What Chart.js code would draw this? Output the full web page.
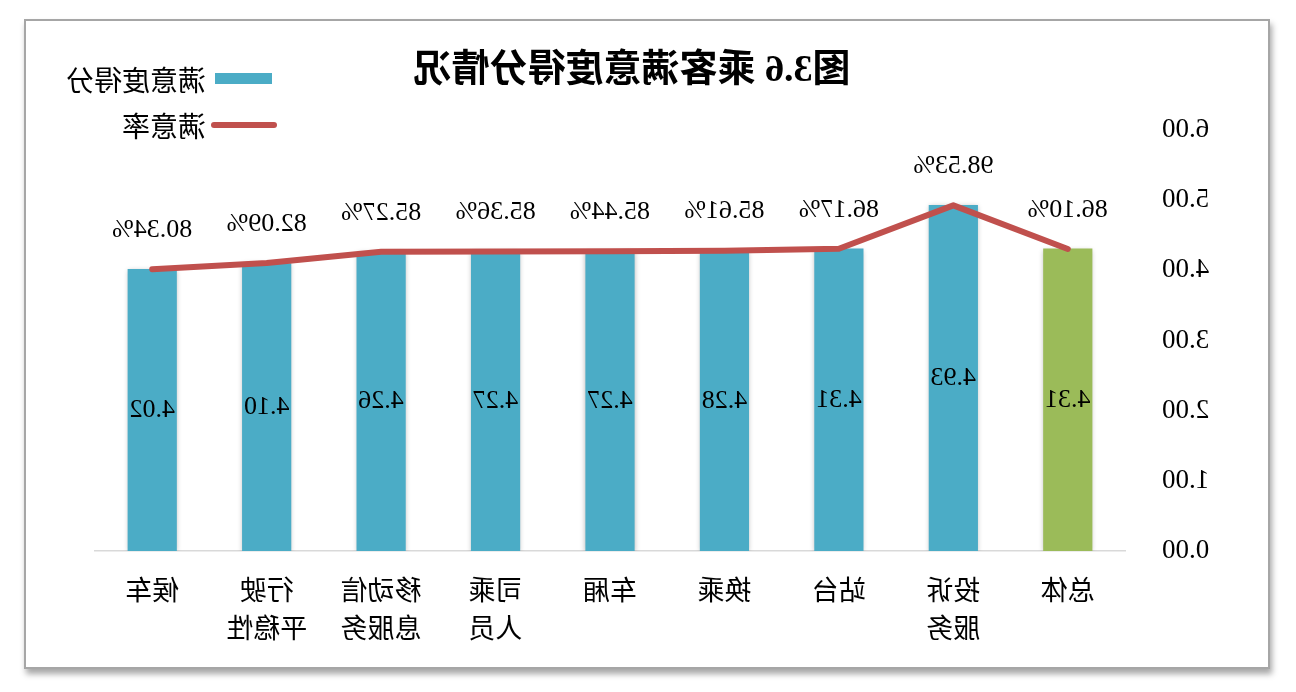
<!DOCTYPE html>
<html lang="zh">
<head>
<meta charset="utf-8">
<title>图3.6 乘客满意度得分情况</title>
<script src="https://cdn.jsdelivr.net/npm/chart.js@4.4.1/dist/chart.umd.min.js"></script>
<style>
    html, body { margin: 0; padding: 0; background: #fff; }
    /* the reference picture is a mirror image, so the whole page is flipped */
    #page { position: relative; width: 1296px; height: 692px; transform: scaleX(-1); overflow: hidden; }
    .frame { position: absolute; left: 26px; top: 19px; width: 1246px; height: 650px; box-sizing: border-box;
             border: 2px solid #a6a6a6; background: #fff; box-shadow: -2px 5px 6px rgba(0,0,0,0.35); }
    .chart-box { position: absolute; left: 0; top: 0; width: 1296px; height: 692px; }
    .title { position: absolute; left: 664px; top: 45px; transform: translateX(-50%); white-space: nowrap;
             font: bold 38px "Liberation Serif", "Noto Sans CJK SC", serif; color: #000; line-height: 46px; }
    .lg-text { position: absolute; left: 1090px; font: 28px "Noto Sans CJK SC", sans-serif; color: #000; line-height: 30px; white-space: nowrap; }
    .lg-box { position: absolute; left: 1024px; top: 73px; width: 57px; height: 11px; background: #4bacc6; }
    .lg-line { position: absolute; left: 1019px; top: 122px; width: 66px; height: 6px; border-radius: 3px; background: #c0504d; }
</style>
</head>
<body>
<div id="page">
    <div class="frame"></div>
    <div class="title">图3.6 乘客满意度得分情况</div>
    <div class="lg-box"></div><div class="lg-text" style="top:64px">满意度得分</div>
    <div class="lg-line"></div><div class="lg-text" style="top:110px">满意率</div>
    <div class="chart-box"><canvas id="scoreChart"></canvas></div>
</div>
<script>
// categories, left to right in the unflipped chart
const categories = [['总体'], ['投诉', '服务'], ['站台'], ['换乘'], ['车厢'], ['司乘', '人员'], ['移动信', '息服务'], ['行驶', '平稳性'], ['候车']];
const scores = [4.31, 4.93, 4.31, 4.28, 4.27, 4.27, 4.26, 4.10, 4.02];       // 满意度得分
const rates = [86.10, 98.53, 86.17, 85.61, 85.44, 85.36, 85.27, 82.09, 80.34]; // 满意率 (%)
const scoreTicks = [0, 1, 2, 3, 4, 5, 6];

const NUM_FONT = '"Liberation Serif", "Times New Roman", serif';
const CJK_FONT = '"Noto Sans CJK SC", sans-serif';

const barShadow = {
    id: 'barShadow',
    beforeDatasetDraw(chart, args) {
        if (args.meta.type !== 'bar') return;
        const ctx = chart.ctx;
        ctx.save();
        ctx.shadowColor = 'rgba(0,0,0,0.28)';
        ctx.shadowBlur = 5;
        ctx.shadowOffsetX = 0;
        ctx.shadowOffsetY = 1;
    },
    afterDatasetDraw(chart, args) {
        if (args.meta.type === 'bar') chart.ctx.restore();
    }
};

const valueLabels = {
    id: 'valueLabels',
    afterDatasetsDraw(chart) {
        const ctx = chart.ctx;
        ctx.save();
        ctx.fillStyle = '#000';
        ctx.font = '26px ' + NUM_FONT;
        ctx.textAlign = 'center';
        ctx.textBaseline = 'middle';
        chart.getDatasetMeta(0).data.forEach((el, i) => {
            ctx.fillText(scores[i].toFixed(2), el.x, (el.y + el.base) / 2);
        });
        chart.getDatasetMeta(1).data.forEach((el, i) => {
            ctx.fillText(rates[i].toFixed(2) + '%', el.x, el.y - 39);
        });
        ctx.restore();
    }
};

document.addEventListener('DOMContentLoaded', () => {
    const ctx = document.getElementById('scoreChart');
    new Chart(ctx, {
        data: {
            labels: categories,
            datasets: [
                { type: 'bar', label: '满意度得分', data: scores, yAxisID: 'y', order: 1,
                  backgroundColor: scores.map((_, i) => i === 0 ? '#9bbb59' : '#4bacc6'),
                  borderWidth: 0, barPercentage: 0.43, categoryPercentage: 1 },
                { type: 'line', label: '满意率', data: rates, yAxisID: 'y1', order: 0,
                  borderColor: '#c0504d', borderWidth: 6, pointRadius: 0, tension: 0,
                  borderCapStyle: 'round', borderJoinStyle: 'round', fill: false }
            ]
        },
        options: {
            responsive: true, maintainAspectRatio: false, animation: false,
            layout: { padding: { left: 0, right: 95, top: 130, bottom: 0 } },
            plugins: { legend: { display: false }, tooltip: { enabled: false } },
            scales: {
                x: {
                    grid: { display: false, drawTicks: false, tickLength: 0 },
                    border: { display: true, color: '#d9d9d9', width: 1.5 },
                    ticks: { autoSkip: false, maxRotation: 0, padding: 20, color: '#000',
                             font: { family: CJK_FONT, size: 27, lineHeight: 1.41 } },
                    afterFit: s => { s.height = 141; }
                },
                y: {
                    min: 0, max: 6,
                    grid: { display: false, drawTicks: false },
                    border: { display: false },
                    afterBuildTicks: s => { s.ticks = scoreTicks.map(v => ({ value: v })); },
                    ticks: { padding: 37, color: '#000', callback: v => Number(v).toFixed(2),
                             font: { family: NUM_FONT, size: 27 } },
                    afterFit: s => { s.width = 171; }
                },
                y1: { display: false, min: 0, max: 120 }
            }
        },
        plugins: [barShadow, valueLabels]
    });
});
</script>
</body>
</html>
